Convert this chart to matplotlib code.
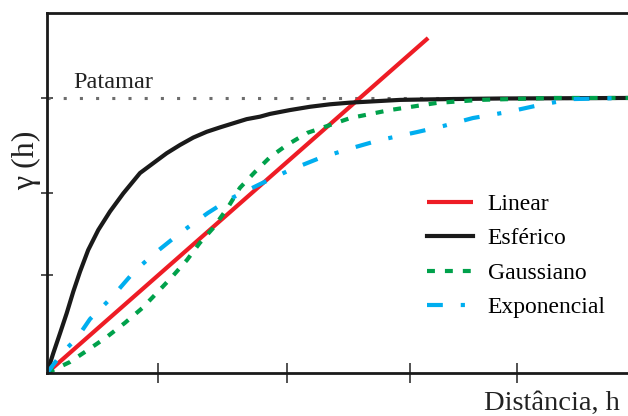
import matplotlib.pyplot as plt
import numpy as np

# distancia (unidades arbitrarias) e semivariancia normalizada pelo patamar
x_lin = [0.0, 6.56]
y_lin = [0.0, 1.218]

x_esf = [0, 0.108, 0.224, 0.339, 0.453, 0.568, 0.709, 0.883, 1.084, 1.313, 1.601, 1.830, 2.060,
         2.289, 2.518, 2.749, 2.978, 3.207, 3.437, 3.666, 3.838, 4.182, 4.527, 4.871, 5.215,
         5.559, 6.076, 6.936, 7.797, 10]
y_esf = [0, 0.0716, 0.144, 0.217, 0.296, 0.368, 0.447, 0.520, 0.587, 0.653, 0.727, 0.763, 0.799,
         0.829, 0.856, 0.877, 0.893, 0.908, 0.923, 0.932, 0.942, 0.956, 0.968, 0.977, 0.983,
         0.987, 0.993, 0.996, 0.998, 1.0]

x_gau = [0, 0.396, 0.706, 1.03, 1.34, 1.64, 1.89, 2.15, 2.41, 2.63, 2.86, 3.12, 3.32, 3.58,
         3.84, 4.13, 4.48, 5.22, 5.90, 6.71, 7.45, 8.71, 10]
y_gau = [0, 0.04, 0.084, 0.131, 0.182, 0.236, 0.291, 0.349, 0.411, 0.473, 0.527, 0.604, 0.673,
         0.731, 0.785, 0.829, 0.873, 0.927, 0.956, 0.982, 0.993, 1.0, 1.0]

x_exp = [0, 0.275, 0.516, 0.74, 1.12, 1.51, 1.86, 2.29, 2.77, 3.15, 3.67, 4.18, 4.70, 5.25,
         5.73, 6.37, 6.82, 7.33, 7.93, 8.49, 9.04, 10]
y_exp = [0, 0.076, 0.127, 0.196, 0.276, 0.371, 0.436, 0.509, 0.582, 0.633, 0.687, 0.738, 0.782,
         0.818, 0.847, 0.876, 0.898, 0.927, 0.949, 0.975, 0.996, 1.0]

patamar = 1.0
xticks = [1.91, 4.13, 6.25, 8.09]
yticks = [0.356, 0.655, 1.0]

plt.rcParams['font.family'] = ['Liberation Serif', 'DejaVu Serif']

fig = plt.figure(figsize=(6.28, 4.16), dpi=100)
ax = fig.add_axes([0.0748, 0.1034, 0.9252, 0.8654])

ax.plot([0, 10], [patamar, patamar], color="#6d6d6d", lw=2.2, ls=(0, (1.0, 4.3)))
ax.plot(x_lin, y_lin, color="#ee1c25", lw=3.0, label="Linear", solid_capstyle="butt")
ax.plot(x_esf, y_esf, color="#1a1a1a", lw=3.0, label="Esférico")
ax.plot(x_gau, y_gau, color="#00a14b", lw=3.0, ls=(0, (1.9, 2.4)), label="Gaussiano")
ax.plot(x_exp, y_exp, color="#00aeef", lw=3.0, ls=(0, (3.8, 4.3, 1.0, 4.3)), label="Exponencial")

ax.text(0.45, 1.035, "Patamar", fontsize=17.5, color="#222222")

ax.set_xlim(0, 10)
ax.set_ylim(0, 1.309)
ax.set_xticks(xticks)
ax.set_yticks(yticks)
ax.set_xticklabels([])
ax.set_yticklabels([])
ax.tick_params(axis="x", direction="inout", length=15, width=1.2, color="#333333")
ax.tick_params(axis="y", direction="inout", length=8, width=1.2, color="#333333")

for s in ["left", "bottom", "top"]:
    ax.spines[s].set_linewidth(2.0)
    ax.spines[s].set_color("#1a1a1a")
ax.spines["right"].set_visible(False)

fig.text(0.987, 0.0, "Distância, h", fontsize=20.5, ha="right", va="bottom", color="#222222")
fig.text(0.043, 0.615, "γ (h)", fontsize=23, rotation=90, ha="center", va="center", color="#222222")

ax.legend(loc="upper left", bbox_to_anchor=(0.633, 0.532), frameon=False, fontsize=17,
          handlelength=1.95, handletextpad=0.64, labelspacing=0.55, borderpad=0)

fig.savefig("out.png", dpi=100)
